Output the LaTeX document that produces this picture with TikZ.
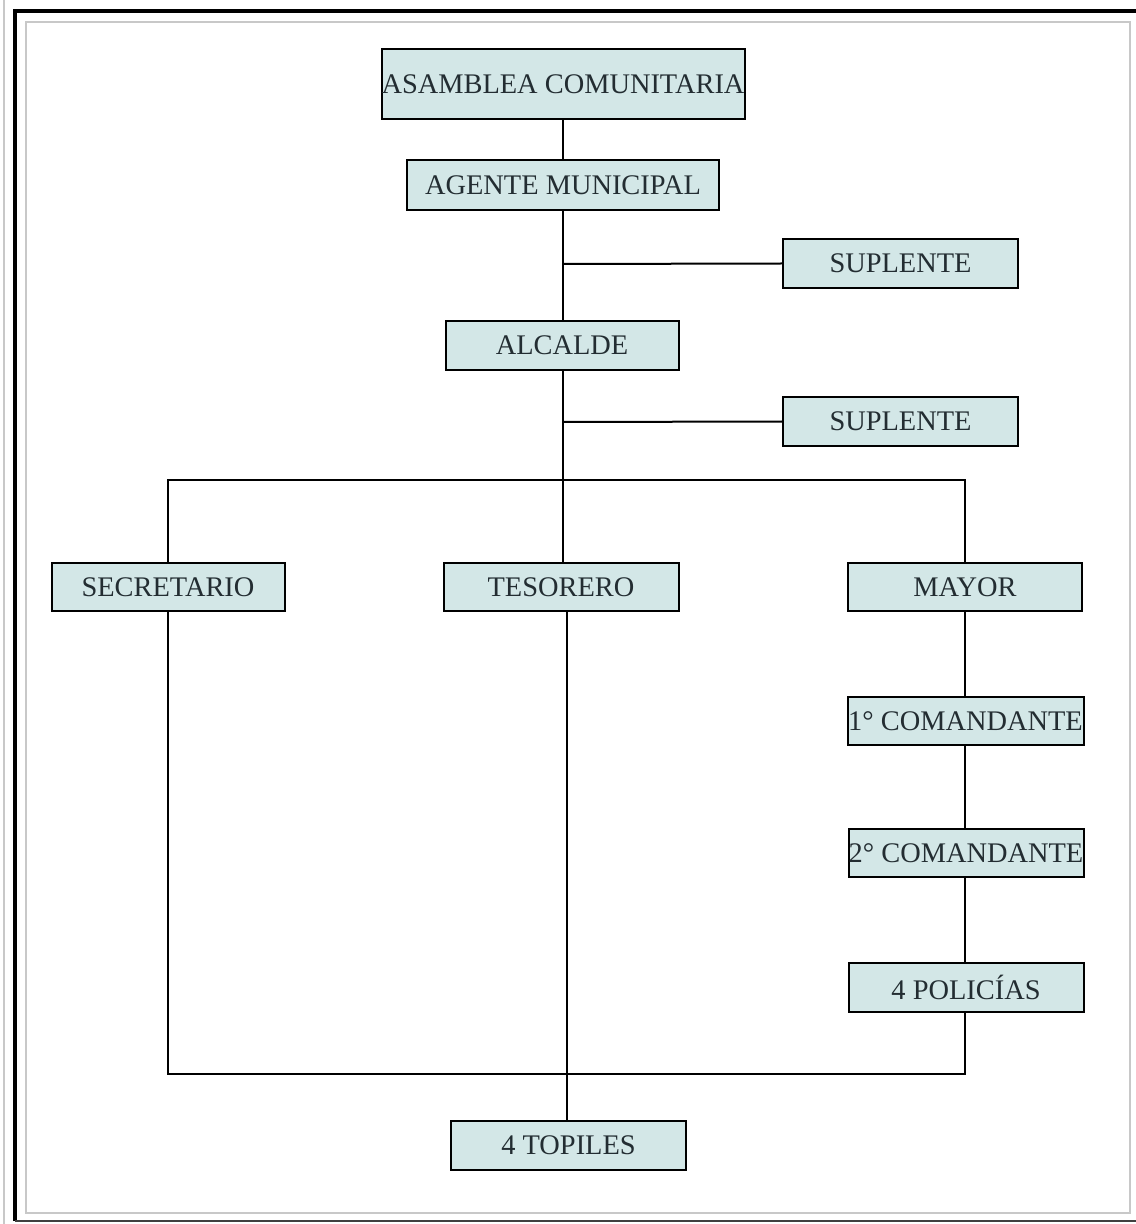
\documentclass[tikz,border=0pt]{standalone}
\usepackage{fontspec}
\setmainfont{Liberation Serif}
\definecolor{boxfill}{RGB}{211,231,231}
\definecolor{boxtext}{RGB}{35,45,50}
\definecolor{framegray}{RGB}{200,200,200}
\begin{document}
\begin{tikzpicture}[x=0.5pt,y=-0.5pt,
  orgbox/.style={draw=black, line width=1pt, fill=boxfill, text=boxtext,
    inner sep=0pt, font=\fontsize{14.2pt}{16pt}\selectfont},
  link/.style={draw=black, line width=1pt}]
\useasboundingbox (0,0) rectangle (1135,1224);
% frame
\draw[framegray, line width=1pt] (3.5,0) -- (3.5,1224);
\draw[black, line width=1.8pt] (15,1221) -- (15,11) -- (1140,11);
\draw[black!75, line width=1.2pt] (15,1221) -- (1140,1221);
\draw[framegray, line width=0.9pt] (26,22) rectangle (1130,1213);
% boxes
\node[orgbox, minimum width=181pt, minimum height=35pt] (asam) at (563,84) {ASAMBLEA COMUNITARIA};
\node[orgbox, minimum width=156pt, minimum height=25pt] (agente) at (563,185) {AGENTE MUNICIPAL};
\node[orgbox, minimum width=117.5pt, minimum height=24.5pt] (sup1) at (900.5,263.5) {SUPLENTE};
\node[orgbox, minimum width=116.5pt, minimum height=24.5pt] (alcalde) at (562,345.5) {ALCALDE};
\node[orgbox, minimum width=117.5pt, minimum height=24.5pt] (sup2) at (900.5,421.5) {SUPLENTE};
\node[orgbox, minimum width=116.5pt, minimum height=24pt] (secr) at (168,587) {SECRETARIO};
\node[orgbox, minimum width=117.5pt, minimum height=24pt] (teso) at (561,587) {TESORERO};
\node[orgbox, minimum width=117pt, minimum height=24pt] (mayor) at (965,587) {MAYOR};
\node[orgbox, minimum width=118pt, minimum height=24pt] (com1) at (965.5,721) {1° COMANDANTE};
\node[orgbox, minimum width=117.5pt, minimum height=24pt] (com2) at (966,853) {2° COMANDANTE};
\node[orgbox, minimum width=117.5pt, minimum height=24.5pt] (pol) at (966,987.5) {4 POLICÍAS};
\node[orgbox, minimum width=117.5pt, minimum height=24.5pt] (topiles) at (568.5,1145.5) {4 TOPILES};
% junctions
\coordinate (j1) at (563,264);
\coordinate (j2) at (563,422);
\coordinate (hub) at (563,480);
\coordinate (bot) at (567,1074);
\coordinate (spine) at (965,0);
% connectors
\draw[link] (agente.north) -- (agente.north |- asam.south);
\draw[link] (agente.south) -- (agente.south |- alcalde.north);
\draw[link] (j1) -- (sup1.west);
\draw[link] (hub |- alcalde.south) -- (hub);
\draw[link] (j2) -- (sup2.west);
\draw[link] (secr.north) -- (secr.north |- hub) -- (spine |- hub) -- (spine |- mayor.north);
\draw[link] (hub) -- (hub |- teso.north);
\draw[link] (spine |- mayor.south) -- (spine |- com1.north);
\draw[link] (spine |- com1.south) -- (spine |- com2.north);
\draw[link] (spine |- com2.south) -- (spine |- pol.north);
\draw[link] (secr.south) -- (secr.south |- bot) -- (spine |- bot) -- (spine |- pol.south);
\draw[link] (bot |- teso.south) -- (bot |- topiles.north);
\end{tikzpicture}
\end{document}
